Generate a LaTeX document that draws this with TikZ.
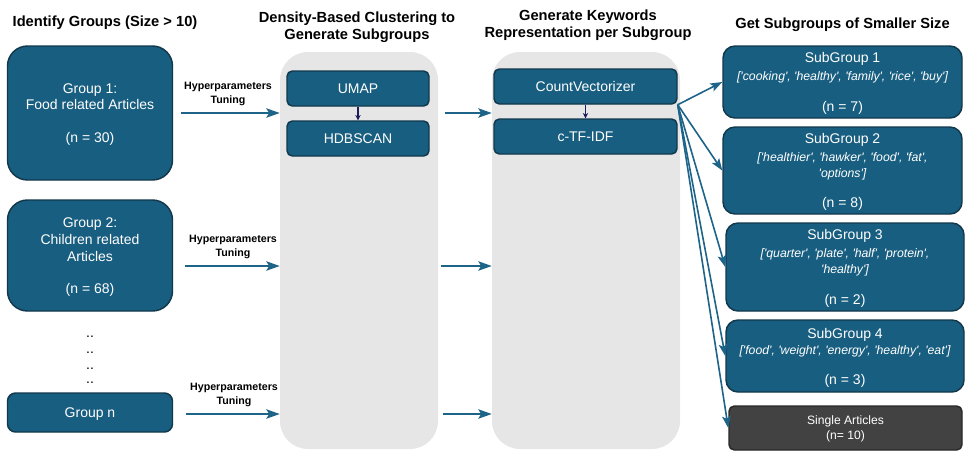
\documentclass[tikz,border=0pt]{standalone}
\usepackage{fontspec}
\setmainfont{Liberation Sans}
\usetikzlibrary{arrows.meta,calc}
\definecolor{boxfill}{RGB}{24,94,128}
\definecolor{boxline}{RGB}{18,56,76}
\definecolor{arrcol}{RGB}{30,100,136}
\definecolor{navyarr}{RGB}{30,30,90}
\definecolor{panelgray}{RGB}{230,230,230}
\definecolor{darkbox}{RGB}{66,66,66}
\definecolor{darkline}{RGB}{40,40,40}
\newcommand\sq[1]{\textquotesingle #1\textquotesingle}
\newcommand\kwlist[1]{{\itshape\fontsize{9.2}{12}\selectfont #1}}
\begin{document}
\begin{tikzpicture}[x=0.75pt,y=-0.75pt,
  dims/.style 2 args={minimum width=#1*0.75pt, minimum height=#2*0.75pt},
  bluebox/.style={draw=boxline, fill=boxfill, line width=1.1pt, text=white, align=center, inner sep=0pt, font=\fontsize{10.5}{12.5}\selectfont},
  multi/.style={text depth=-1.6pt},
  panel/.style={fill=panelgray, rounded corners=21pt, inner sep=0pt},
  title/.style={font=\bfseries\fontsize{11}{12.9}\selectfont, align=center, inner sep=0pt},
  hp/.style={font=\bfseries\fontsize{8}{10.5}\selectfont, align=center, inner sep=0pt},
  dotsty/.style={font=\fontsize{10.5}{12.5}\selectfont, inner sep=0pt},
  arr/.style={draw=arrcol, line width=1.4pt, -{Stealth[length=10pt,width=7pt,inset=2pt]}},
  fan/.style={draw=arrcol, line width=1.2pt, -{Stealth[length=9pt,width=6.5pt,inset=2pt]}},
  smallarr/.style={draw=navyarr, line width=0.8pt, -{Stealth[length=4pt,width=4pt]}},
]
\useasboundingbox (0,0) rectangle (967,451);

% panels
\node[panel, dims={158}{397}] (p1) at (359,250.5) {};
\node[panel, dims={188}{397}] (p2) at (586,250.5) {};

% titles
\node[title] (t1) at (105,23) {Identify Groups (Size > 10)};
\node[title] (t2) at (357,27.5) {Density-Based Clustering to\\Generate Subgroups};
\node[title] (t3) at (588,25) {Generate Keywords\\Representation per Subgroup};
\node[title] (t4) at (842.5,25) {Get Subgroups of Smaller Size};

% groups
\node[bluebox, multi, dims={165}{134}, rounded corners=15pt] (g1) at (90,113)
  {Group 1:\\Food related Articles\\[12pt](n = 30)};
\node[bluebox, multi, dims={165}{111}, rounded corners=15pt] (g2) at (90,255.5)
  {Group 2:\\Children related\\Articles\\[11.5pt](n = 68)};
\node[bluebox, text depth=-2.2pt, dims={165}{39}, rounded corners=6pt] (gn) at (90,412.5) {Group n};

\node[dotsty] (d1) at (90,337) {..};
\node[dotsty] (d2) at (90,352.5) {..};
\node[dotsty] (d3) at (90,368.5) {..};
\node[dotsty] (d4) at (90,383) {..};

% clustering boxes
\node[bluebox, text depth=-1pt, dims={142}{35}, rounded corners=4pt] (umap) at (358,88.5) {UMAP};
\node[bluebox, text depth=-0.5pt, dims={142}{35}, rounded corners=4pt] (hdb) at (358,138.5) {HDBSCAN};
\draw[smallarr] (umap.south) -- (hdb.north);

% keyword boxes
\node[bluebox, text depth=-0.5pt, dims={183}{35}, rounded corners=4pt] (cv) at (585.5,86.5) {CountVectorizer};
\node[bluebox, text depth=-1pt, dims={183}{35}, rounded corners=4pt] (ctf) at (585.5,136.5) {c-TF-IDF};
\draw[smallarr] (cv.south) -- (ctf.north);

% hyperparameter labels
\node[hp] (h1) at (228,93.5) {Hyperparameters\\Tuning};
\node[hp] (h2) at (233,246.5) {Hyperparameters\\Tuning};
\node[hp] (h3) at (234,394.5) {Hyperparameters\\Tuning};

% row arrows
\coordinate (r1) at ($(g1.east)+(8,0)$);
\coordinate (r2) at ($(g2.east)+(12,10.5)$);
\coordinate (r3) at ($(gn.east)+(13,1.5)$);
\draw[arr] (r1) -- (r1 -| p1.west);
\draw[arr] (r2) -- (r2 -| p1.west);
\draw[arr] (r3) -- (r3 -| p1.west);
\coordinate (s1) at ($(r1 -| p1.east)+(7,0)$);
\coordinate (s2) at ($(r2 -| p1.east)+(3,0)$);
\coordinate (s3) at ($(r3 -| p1.east)+(5,0)$);
\draw[arr] (s1) -- (s1 -| p2.west);
\draw[arr] (s2) -- (s2 -| p2.west);
\draw[arr] (s3) -- (s3 -| p2.west);

% subgroups
\node[bluebox, multi, dims={239}{72}, rounded corners=9pt] (sg1) at (842.5,82)
  {SubGroup 1\\[1pt]\kwlist{[\sq{cooking}, \sq{healthy}, \sq{family}, \sq{rice}, \sq{buy}]}\\[11pt](n = 7)};
\node[bluebox, text depth=0pt, dims={239}{87}, rounded corners=9pt] (sg2) at (842.5,170.5)
  {SubGroup 2\\[1pt]\kwlist{[\sq{healthier}, \sq{hawker}, \sq{food}, \sq{fat},}\\[-0.5pt]\kwlist{\sq{options}]}\\[10pt](n = 8)};
\node[bluebox, text depth=-0.6pt, dims={238}{88}, rounded corners=9pt] (sg3) at (845,267)
  {SubGroup 3\\[1.5pt]\kwlist{[\sq{quarter}, \sq{plate}, \sq{half}, \sq{protein},}\\[-0.8pt]\kwlist{\sq{healthy}]}\\[11pt](n = 2)};
\node[bluebox, multi, dims={238}{72}, rounded corners=9pt] (sg4) at (845,356)
  {SubGroup 4\\[-0.5pt]\kwlist{[\sq{food}, \sq{weight}, \sq{energy}, \sq{healthy}, \sq{eat}]}\\[10pt](n = 3)};
\node[bluebox, fill=darkbox, draw=darkline, text depth=0pt, font=\fontsize{9.1}{11.25}\selectfont, dims={233}{44}, rounded corners=4pt] (sa) at (845.5,428)
  {Single Articles\\(n= 10)};

% fan arrows
\draw[fan] (cv.south east) -- (sg1.west);
\draw[fan] (cv.south east) -- (sg2.west);
\draw[fan] (cv.south east) -- (sg3.west);
\draw[fan] (cv.south east) -- (sg4.west);
\draw[fan] (cv.south east) -- (sa.west);
\end{tikzpicture}
\end{document}
